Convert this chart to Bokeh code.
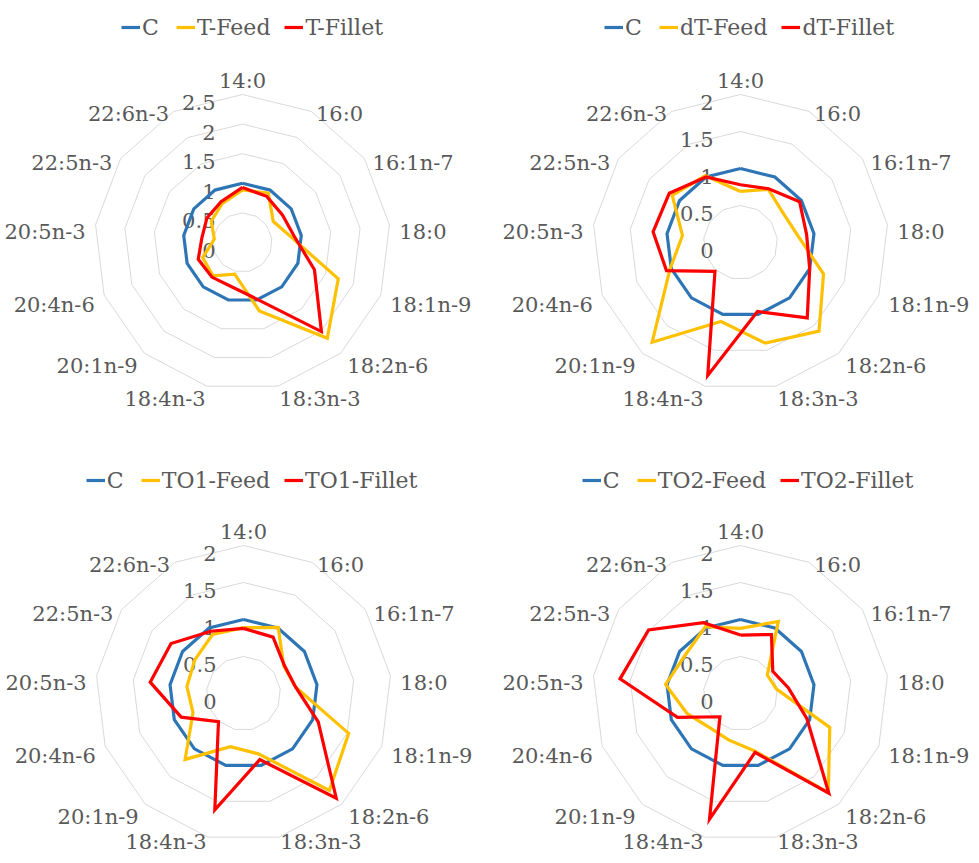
import numpy as np
from bokeh.plotting import figure
from bokeh.models import Range1d, Legend, LegendItem
from bokeh.embed import file_html
from bokeh.resources import INLINE
from bokeh.core.properties import value

# ---------------- data ----------------
categories = ["14:0", "16:0", "16:1n-7", "18:0", "18:1n-9", "18:2n-6", "18:3n-3",
              "18:4n-3", "20:1n-9", "20:4n-6", "20:5n-3", "22:5n-3", "22:6n-3"]

control = [1.0, 1.0, 1.0, 1.0, 1.0, 1.0, 1.0, 1.0, 1.0, 1.0, 1.0, 1.0, 1.0]

t_feed = [0.89, 0.94, 0.63, 0.82, 1.73, 2.16, 1.19, 0.55, 0.75, 0.72, 0.48, 0.64, 0.74]
t_fillet = [0.93, 0.88, 0.82, 0.88, 1.30, 2.01, 0.98, 0.77, 0.78, 0.80, 0.69, 0.73, 0.78]

dt_feed = [0.69, 0.81, 0.70, 0.78, 1.20, 1.60, 1.40, 1.10, 1.80, 1.02, 0.79, 1.12, 1.02]
dt_fillet = [0.78, 0.82, 0.97, 0.90, 1.00, 1.36, 0.96, 1.85, 0.52, 1.07, 1.19, 1.17, 1.00]

to1_feed = [0.89, 1.01, 0.66, 0.71, 1.52, 1.75, 0.84, 0.74, 1.19, 0.73, 0.77, 0.80, 0.90]
to1_fillet = [0.88, 0.86, 0.67, 0.71, 1.08, 1.89, 0.92, 1.62, 0.51, 0.90, 1.27, 1.19, 0.95]

to2_feed = [0.88, 1.10, 0.44, 0.49, 1.29, 1.79, 0.80, 0.65, 0.62, 0.77, 1.02, 0.91, 1.02]
to2_fillet = [0.79, 0.90, 0.53, 0.65, 0.96, 1.80, 0.82, 1.75, 0.42, 0.91, 1.64, 1.51, 1.08]

ticks_a = [0, 0.5, 1, 1.5, 2, 2.5]
ticks_b = [0, 0.5, 1, 1.5, 2]

panels = [
    dict(names=["C", "T-Feed", "T-Fillet"], series=[control, t_feed, t_fillet], ticks=ticks_a),
    dict(names=["C", "dT-Feed", "dT-Fillet"], series=[control, dt_feed, dt_fillet], ticks=ticks_b),
    dict(names=["C", "TO1-Feed", "TO1-Fillet"], series=[control, to1_feed, to1_fillet], ticks=ticks_b),
    dict(names=["C", "TO2-Feed", "TO2-Fillet"], series=[control, to2_feed, to2_fillet], ticks=ticks_b),
]

# ---------------- layout / style ----------------
W, H = 971, 855
centers = [(242, 242), (740, 242), (243, 693), (740, 693)]
legend_tops = [12, 12, 465, 465]
legend_shift = [11, 10, 6, 5]
R = 148
colors = ["#2E75B6", "#FFC000", "#FF0000"]
TXT = "#595959"
FONT = "DejaVu Serif"
FSN = 21
FS = "%dpx" % FSN
LFSN = 22

char_w = {'C': 0.733, 'T': 0.668, '-': 0.338, 'F': 0.669, 'e': 0.592, 'd': 0.640,
          'i': 0.320, 'l': 0.320, 't': 0.402, 'O': 0.787, '1': 0.636, '2': 0.636}

p = figure(width=W, height=H, x_range=Range1d(0, W), y_range=Range1d(H, 0),
           output_backend="svg", toolbar_location=None, min_border=0,
           x_axis_location=None, y_axis_location=None)
p.grid.visible = False
p.outline_line_color = None

n = len(categories)
theta = np.arange(n) * 2 * np.pi / n
dx = np.sin(theta)
dy = -np.cos(theta)


def label(x, y, txt, align):
    p.text(x=[x], y=[y], text=[txt], text_align=align, text_baseline="alphabetic",
           text_font=value(FONT), text_font_size=FS, text_color=TXT)


for (cx, cy), panel, ltop, lsh in zip(centers, panels, legend_tops, legend_shift):
    ticks = panel["ticks"]
    scale = R / ticks[-1]
    # grid rings
    for t in ticks[1:]:
        xs = list(cx + t * scale * dx) + [cx + t * scale * dx[0]]
        ys = list(cy + t * scale * dy) + [cy + t * scale * dy[0]]
        p.line(xs, ys, line_color="#D9D9D9", line_width=1)
    # tick labels
    p.text(x=[cx - 27] * len(ticks), y=[cy - t * scale + 8 for t in ticks],
           text=[("%g" % t) for t in ticks], text_align="right", text_baseline="alphabetic",
           text_font=value(FONT), text_font_size=FS, text_color=TXT)
    # category labels
    rmax = ticks[-1] * scale
    for i, cat in enumerate(categories):
        if i == 0:
            label(cx, cy - (rmax + 14), cat, "center")
        elif abs(dy[i]) > 0.95:
            label(cx + (rmax + 6) * dx[i], min(cy + rmax + 8, H - 14), cat,
                  "left" if dx[i] > 0 else "right")
        else:
            label(cx + (rmax + 10) * dx[i], cy + (rmax + 6) * dy[i] + 8, cat,
                  "left" if dx[i] > 0 else "right")
    # series
    rends = []
    for vals, col in zip(panel["series"], colors):
        v = np.array(vals)
        xs = list(cx + v * scale * dx) + [cx + v[0] * scale * dx[0]]
        ys = list(cy + v * scale * dy) + [cy + v[0] * scale * dy[0]]
        rends.append(p.line(xs, ys, line_color=col, line_width=3.2, line_join="miter"))
    # legend
    gw, so, sp = 19, 2, 14
    total = sum(gw + so + LFSN * sum(char_w.get(ch, 0.6) for ch in nm) for nm in panel["names"]) + sp * 2
    leg = Legend(items=[LegendItem(label=nm, renderers=[r]) for nm, r in zip(panel["names"], rends)],
                 orientation="horizontal", location=(cx + lsh - total / 2, H - ltop - 30),
                 glyph_width=gw, glyph_height=30, label_height=30, label_standoff=so, spacing=sp,
                 padding=0, margin=0, border_line_color=None, background_fill_alpha=0,
                 label_text_font=FONT, label_text_font_size="%dpx" % LFSN, label_text_color=TXT)
    p.add_layout(leg)

open("out.html", "w").write(file_html(p, INLINE))
